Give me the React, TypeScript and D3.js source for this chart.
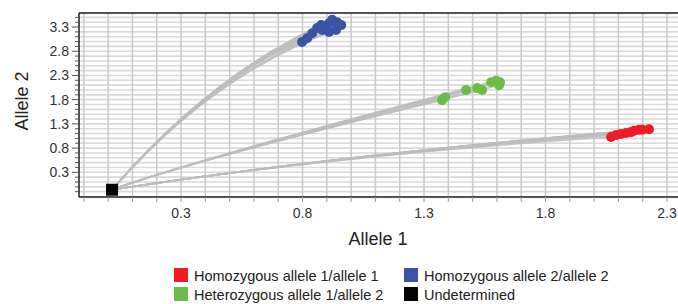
import * as d3 from 'd3';
import React from 'react';

type Pt = [number, number];

// cluster calls (Allele 1, Allele 2)
const homo1: Pt[] = [
  [2.07, 1.03], [2.091, 1.07], [2.111, 1.09], [2.132, 1.11], [2.152, 1.13],
  [2.165, 1.16], [2.185, 1.18], [2.198, 1.18], [2.226, 1.19],
];
const homo2: Pt[] = [
  [0.798, 2.99], [0.819, 3.07], [0.84, 3.17], [0.86, 3.28], [0.877, 3.34],
  [0.881, 3.24], [0.897, 3.3], [0.909, 3.38], [0.922, 3.45], [0.942, 3.4],
  [0.959, 3.34], [0.938, 3.24], [0.909, 3.2],
];
const hetero: Pt[] = [
  [1.374, 1.79], [1.387, 1.85], [1.473, 2.0], [1.519, 2.04], [1.539, 2.0],
  [1.576, 2.16], [1.597, 2.19], [1.609, 2.1], [1.613, 2.16],
];
const undetermined: Pt[] = [[0.016, -0.06]];

// bend of the amplification traces for each cluster
const bendHomo1: Pt = [0.95, 0.66];
const bendHomo2: Pt = [0.428, 2.32];
const bendHetero: Pt = [0.374, 0.59];

const xLabels = [0.3, 0.8, 1.3, 1.8, 2.3];
const yLabels = [0.3, 0.8, 1.3, 1.8, 2.3, 2.8, 3.3];

const legendLabels = [
  'Homozygous allele 1/allele 1',
  'Homozygous allele 2/allele 2',
  'Heterozygous allele 1/allele 2',
  'Undetermined',
];
const legendColors = ['#ed1c24', '#3a53a4', '#6abd45', '#050505'];

const W = 678;
const H = 304;
const left = 79, top = 13, bottom = 197;
const font = '"Liberation Sans", Arial, Helvetica, sans-serif';

const App: React.FC = () => {
  const x = d3.scaleLinear().domain([-0.12, 2.37]).range([left, 684]);
  const y = d3.scaleLinear().domain([-0.21, 3.59]).range([bottom, top]);

  const xGrid = d3.range(-1, 24).map(i => i / 10);
  const yGrid = d3.range(-1, 36).map(i => i / 10);

  const start = undetermined[0];
  const trace = (end: Pt, c: Pt) => {
    const p = d3.path();
    p.moveTo(x(start[0]), y(start[1]));
    p.quadraticCurveTo(x(c[0]), y(c[1]), x(end[0]), y(end[1]));
    return p.toString();
  };

  const groups: { pts: Pt[]; bend: Pt; color: string }[] = [
    { pts: homo1, bend: bendHomo1, color: legendColors[0] },
    { pts: homo2, bend: bendHomo2, color: legendColors[1] },
    { pts: hetero, bend: bendHetero, color: legendColors[2] },
  ];

  return (
    <div style={{ position: 'absolute', left: 0, top: 0 }}>
      <svg width={W} height={H} style={{ display: 'block', fontFamily: font }}>
        <rect width={W} height={H} fill="#fff" />
        {/* grid */}
        {yGrid.map(v => (
          <line key={'h' + v} x1={left} x2={W} y1={y(v)} y2={y(v)} stroke="#dadada" strokeWidth={1.6} />
        ))}
        {xGrid.map(v => (
          <line key={'v' + v} x1={x(v)} x2={x(v)} y1={top} y2={bottom} stroke="#c9c9c9" strokeWidth={1.5} />
        ))}
        {/* traces */}
        {groups.map((g, gi) =>
          g.pts.map((p, i) => (
            <path key={gi + '-' + i} d={trace(p, g.bend)} fill="none" stroke="#bdbdbd" strokeWidth={1.6} strokeOpacity={0.85} />
          ))
        )}
        {/* calls */}
        {groups.map((g, gi) =>
          g.pts.map((p, i) => (
            <circle key={'c' + gi + '-' + i} cx={x(p[0])} cy={y(p[1])} r={5} fill={g.color} />
          ))
        )}
        {undetermined.map((p, i) => (
          <rect key={'u' + i} x={x(p[0]) - 6} y={y(p[1]) - 6} width={12} height={12} fill={legendColors[3]} />
        ))}
        {/* axes */}
        <line x1={left} x2={W} y1={top} y2={top} stroke="#1a1a1a" strokeWidth={1.5} />
        <line x1={left} x2={W} y1={bottom} y2={bottom} stroke="#1a1a1a" strokeWidth={1.5} />
        <line x1={left} x2={left} y1={top} y2={bottom} stroke="#1a1a1a" strokeWidth={1.5} />
        {xGrid.map(v => (
          <line key={'xt' + v} x1={x(v)} x2={x(v)} y1={bottom} y2={bottom + 5} stroke="#999" strokeWidth={1} />
        ))}
        {yGrid.map(v => {
          const major = yLabels.some(l => Math.abs(l - v) < 1e-6);
          return (
            <line key={'yt' + v} x1={left - (major ? 7 : 4)} x2={left} y1={y(v)} y2={y(v)} stroke="#555" strokeWidth={1} />
          );
        })}
        {xLabels.map(v => (
          <text key={'xl' + v} x={x(v)} y={218} textAnchor="middle" fontSize={14} fill="#333">
            {d3.format('.1f')(v)}
          </text>
        ))}
        {yLabels.map(v => (
          <text key={'yl' + v} x={69} y={y(v) + 5} textAnchor="end" fontSize={14} fill="#333">
            {d3.format('.1f')(v)}
          </text>
        ))}
        <text x={378} y={245} textAnchor="middle" fontSize={18} fill="#222">Allele 1</text>
        <text transform="translate(28,101) rotate(-90)" textAnchor="middle" fontSize={18} fill="#222">Allele 2</text>
        {/* legend */}
        {legendLabels.map((l, i) => {
          const lx = i % 2 === 0 ? 174 : 404;
          const ly = i < 2 ? 268 : 287;
          return (
            <g key={'lg' + i}>
              <rect x={lx} y={ly} width={14} height={14} fill={legendColors[i]} />
              <text x={lx + 20} y={ly + 13} fontSize={14.5} fill="#222">{l}</text>
            </g>
          );
        })}
      </svg>
    </div>
  );
};

export default App;
